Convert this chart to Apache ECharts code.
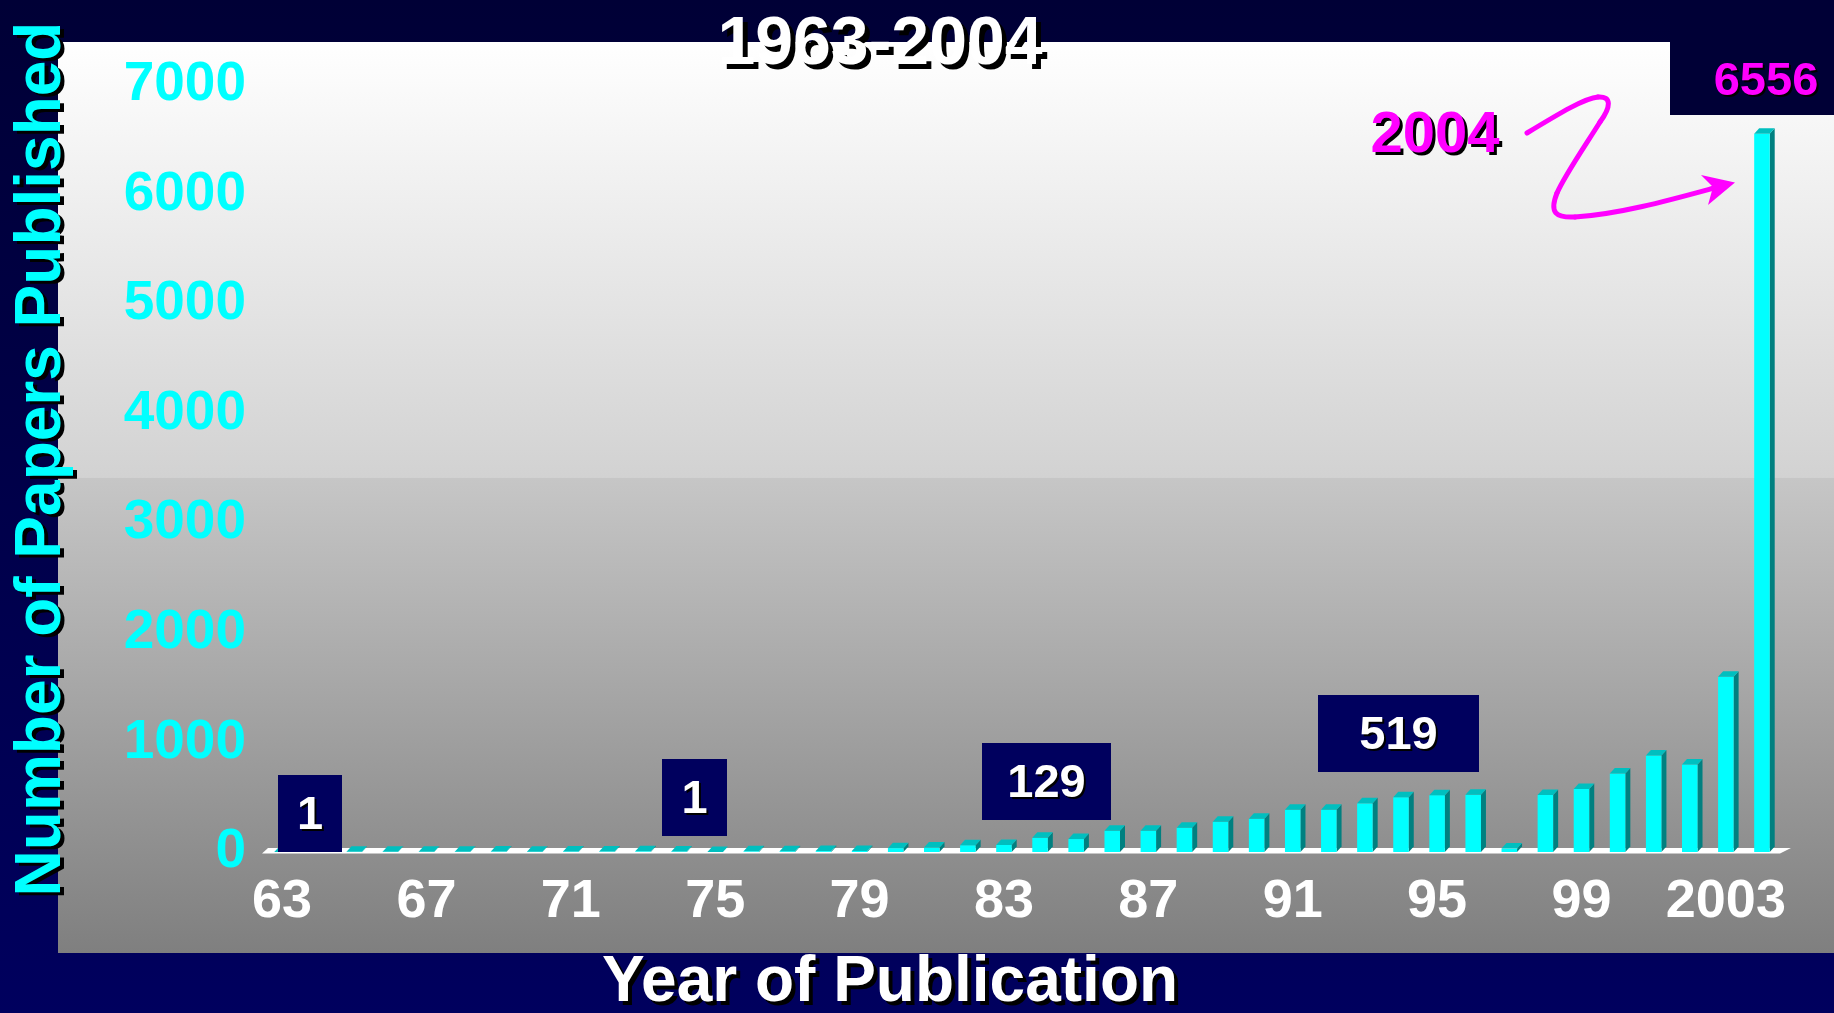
<!DOCTYPE html>
<html>
<head>
<meta charset="utf-8">
<title>Number of Papers Published 1963-2004</title>
<script src="https://cdn.jsdelivr.net/npm/echarts@6/dist/echarts.min.js"></script>
<style>
  html, body { margin: 0; padding: 0; background: #000040; }
  #chart { width: 1834px; height: 1013px; }
</style>
</head>
<body>
<div id="chart"></div>
<script>
// Publication years (one bar per year)
const years = [
  '1963','1964','1965','1966','1967','1968','1969','1970','1971','1972',
  '1973','1974','1975','1976','1977','1978','1979','1980','1981','1982',
  '1983','1984','1985','1986','1987','1988','1989','1990','1991','1992',
  '1993','1994','1995','1996','1997','1998','1999','2000','2001','2002',
  '2003','2004'
];

// Papers published per year
const papers = [
  1, 2, 2, 3, 2, 3, 4, 3, 5, 4,
  6, 5, 1, 6, 7, 8, 9, 35, 40, 62,
  65, 129, 118, 195, 195, 222, 277, 304, 386, 386,
  444, 500, 519, 522, 31, 520, 576, 716, 880, 798,
  1600, 6556
];

// Labels shown under every fourth year
const xTickLabels = ['63', '67', '71', '75', '79', '83', '87', '91', '95', '99', '2003'];

// Years called out with a value box
const calloutYears = ['1963', '1975', '1984', '1995'];
const highlightYear = '2004';

const FONT = '"Liberation Sans", Arial, sans-serif';
const BAR_FRAC = 0.43;   // front face width relative to the category band
const DX = 5, DY = -5.5; // 3D depth offset

const valueOf = y => papers[years.indexOf(y)];

const chart = echarts.init(document.getElementById('chart'), null, { renderer: 'canvas' });

// Callout boxes: [left, top, width, height] for each called-out year
const calloutBoxes = [
  [278, 775, 64, 77],
  [662, 759, 65, 77],
  [982, 743, 129, 77],
  [1318, 695, 161, 77]
];

const graphics = [
  // light panel behind the plot
  {
    type: 'rect', z: -10, silent: true,
    shape: { x: 58, y: 42, width: 1776, height: 911 },
    style: {
      fill: {
        type: 'linear', x: 0, y: 0, x2: 0, y2: 1,
        colorStops: [
          { offset: 0, color: '#ffffff' },
          { offset: 0.478, color: '#d2d2d2' },
          { offset: 0.479, color: '#c6c6c6' },
          { offset: 1, color: '#7f7f7f' }
        ]
      }
    }
  },
  // dark corner box holding the 2004 total
  {
    type: 'rect', z: -5, silent: true,
    shape: { x: 1670, y: 0, width: 164, height: 115 },
    style: { fill: '#000036' }
  }
];

// Text with a hard black drop shadow (a black copy drawn underneath)
function shadowText(text, x, y, size, color, dx, dy, z, rotation) {
  const base = {
    type: 'text', silent: true, rotation: rotation || 0
  };
  const style = (fill) => ({
    text: text, fill: fill, font: 'bold ' + size + 'px ' + FONT,
    align: 'center', verticalAlign: 'middle'
  });
  if (dx || dy) {
    graphics.push(Object.assign({}, base, { z: z, x: x + dx, y: y + dy, style: style('#000000') }));
  }
  graphics.push(Object.assign({}, base, { z: z + 1, x: x, y: y, style: style(color) }));
}

shadowText(String(valueOf(highlightYear)), 1766, 82, 47, '#ff00ff', 2, 2, 20);
shadowText('1963-2004', 880, 45, 68, '#ffffff', 5, 5, 20);
shadowText('Number of Papers Published', 42, 459, 64, '#00ffff', 4, 3, 20, Math.PI / 2);
shadowText('Year of Publication', 890, 983, 64, '#ffffff', 4, 4, 20);
shadowText(highlightYear, 1435, 136, 58, '#ff00ff', 3, 3, 20);

// curly arrow from the "2004" text to the last bar
const arrowSegments = [
  [1527, 133, 1560, 113, 1585, 98, 1598, 97],
  [1598, 97, 1612, 96, 1611, 107, 1600, 122],
  [1600, 122, 1585, 146, 1565, 175, 1557, 193],
  [1557, 193, 1549, 213, 1556, 218, 1575, 217],
  [1575, 217, 1620, 214, 1670, 200, 1714, 188]
];
arrowSegments.forEach(s => {
  graphics.push({
    type: 'bezierCurve', z: 20, silent: true,
    shape: { x1: s[0], y1: s[1], cpx1: s[2], cpy1: s[3], cpx2: s[4], cpy2: s[5], x2: s[6], y2: s[7] },
    style: { stroke: '#ff00ff', lineWidth: 5, fill: null, lineCap: 'round' }
  });
});
graphics.push({
  type: 'polygon', z: 21, silent: true,
  shape: { points: [[1735, 182.5], [1701, 175], [1713, 187], [1708, 205]] },
  style: { fill: '#ff00ff' }
});

// value boxes
calloutYears.forEach((y, k) => {
  const b = calloutBoxes[k];
  graphics.push({
    type: 'rect', z: 15, silent: true,
    shape: { x: b[0], y: b[1], width: b[2], height: b[3] },
    style: { fill: '#00005e' }
  });
  shadowText(String(valueOf(y)), b[0] + b[2] / 2, b[1] + b[3] / 2 + 3, 47, '#ffffff', 2, 2, 16);
});

const option = {
  animation: false,
  backgroundColor: {
    type: 'linear', x: 0, y: 0, x2: 0, y2: 1,
    colorStops: [
      { offset: 0, color: '#000036' },
      { offset: 1, color: '#00005e' }
    ]
  },
  grid: { left: 264, right: 54, top: 85, bottom: 161 },
  xAxis: {
    type: 'category',
    data: years,
    axisLine: { show: false },
    axisTick: { show: false },
    splitLine: { show: false },
    axisLabel: {
      interval: 3,
      formatter: (v, i) => xTickLabels[i / 4],
      color: '#ffffff',
      fontSize: 54,
      fontWeight: 'bold',
      fontFamily: FONT,
      margin: 23
    }
  },
  yAxis: {
    type: 'value',
    min: 0,
    max: 7000,
    interval: 1000,
    axisLine: { show: false },
    axisTick: { show: false },
    splitLine: { show: false },
    axisLabel: {
      formatter: v => String(v),
      color: '#00ffff',
      fontSize: 55,
      fontWeight: 'bold',
      fontFamily: FONT,
      margin: 18
    }
  },
  series: [
    {
      // white floor under the bars
      type: 'custom',
      silent: true,
      z: 1,
      data: [[0, 0]],
      encode: { x: 0, y: 1 },
      renderItem: (params, api) => {
        const band = api.size([1, 0])[0];
        const l = api.coord([0, 0]);
        const r = api.coord([years.length - 1, 0]);
        const x0 = l[0] - band / 2 - 2;
        const x1 = r[0] + band / 2;
        const yf = l[1] + 1.5;
        return {
          type: 'polygon',
          shape: { points: [[x0, yf], [x1, yf], [x1 + DX + 6, yf + DY], [x0 + DX + 1, yf + DY]] },
          style: { fill: '#ffffff' }
        };
      }
    },
    {
      // 3D bars: side, front and top faces
      type: 'custom',
      z: 3,
      data: papers.map((v, i) => [i, v]),
      encode: { x: 0, y: 1 },
      renderItem: (params, api) => {
        const top = api.coord([api.value(0), api.value(1)]);
        const base = api.coord([api.value(0), 0]);
        const w = api.size([1, 0])[0] * BAR_FRAC;
        const xl = top[0] - w / 2, xr = top[0] + w / 2;
        const yt = top[1], yb = base[1];
        return {
          type: 'group',
          children: [
            {
              type: 'polygon',
              shape: { points: [[xr, yt], [xr + DX, yt + DY], [xr + DX, yb + DY], [xr, yb]] },
              style: { fill: '#008080' }
            },
            {
              type: 'rect',
              shape: { x: xl, y: yt, width: w, height: yb - yt },
              style: { fill: '#00ffff' }
            },
            {
              type: 'polygon',
              shape: { points: [[xl, yt], [xr, yt], [xr + DX, yt + DY], [xl + DX, yt + DY]] },
              style: { fill: '#00bfbf' }
            }
          ]
        };
      }
    }
  ],
  graphic: graphics
};

chart.setOption(option);
</script>
</body>
</html>
